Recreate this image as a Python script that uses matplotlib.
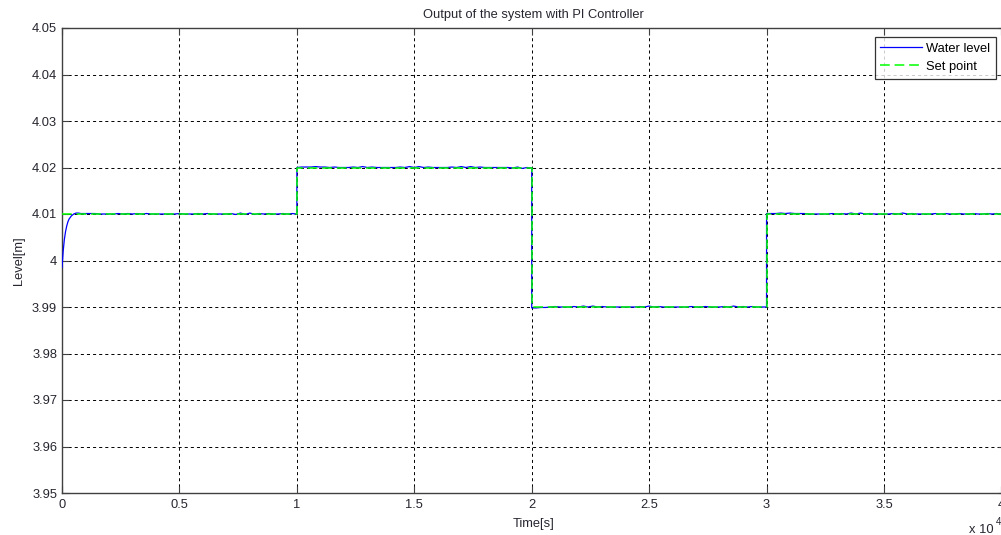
import matplotlib
matplotlib.use("Agg")
import matplotlib.pyplot as plt
import numpy as np

plt.rcParams['font.family'] = ['Liberation Sans', 'DejaVu Sans']
plt.rcParams['lines.scale_dashes'] = False

# set point steps (time in s, level in m)
sp_time = [0, 10000, 20000, 30000, 40000]
sp_level = [4.01, 4.02, 3.99, 4.01, 4.01]

# initial rise of the water level
rise_time = [0, 50, 100, 150, 200, 250, 300, 400, 500, 600, 700, 800]
rise_level = [3.9985, 4.0020, 4.0045, 4.0062, 4.0074, 4.0083, 4.0089,
              4.0096, 4.0100, 4.0102, 4.0102, 4.0101]

# ripple around the set point, units of 0.1 mm, sampled every 200 s
dev_seg1 = [1, 1, 1, 0, 0, 0, 0, 1, 0, 1, 0, 1, 0, 1, 0, 0, 0, 0, 0, 0,
            1, 0, 0, 0, 1, 0, 1, 0, 0, 0, 0, 1, -1, 2, -1, 2, -1, 1, 0, 1,
            0, 0, 1, 0, 1, 0]
dev_seg2 = [0, 1, 1, 1, 2, 1, 1, 0, 1, 0, 0, 0, 1, 0, 2, 0, 1, 0, 0, 0,
            0, 0, 1, 0, 2, 0, 2, 0, 1, 0, 0, 0, 0, 1, 0, 2, 0, 2, 0, 1,
            0, 0, 0, 0, 0, 0, -1, 1, -2, 0, -1]
dev_seg3 = [-2, -2, -1, -1, 0, 1, 0, 0, 0, 1, 0, 2, 0, 2, 0, 1, 0, 0, 0, 0,
            0, 0, 0, 1, 0, 2, 0, 1, 0, 0, 0, 0, 0, 0, 1, 0, 0, 1, 0, 0,
            0, 1, 0, 2, 0, 1, 0, 1, 0, 0, 0]
dev_seg4 = [1, 1, 1, 2, 1, 2, 1, 1, 1, 0, 0, 0, 0, 0, 1, 0, 1, 0, 2, 0,
            2, 0, 1, 0, 0, 0, 0, 1, 0, 2, 0, 1, 0, 0, 0, 0, 1, 0, 1, 0,
            0, 1, 0, 0, 1, 0, 0, 1, 0, 1, 0]

seg_start = [1000, 10000, 20000, 30000]
segs = [dev_seg1, dev_seg2, dev_seg3, dev_seg4]

t_all = list(rise_time)
y_all = list(rise_level)
for k, (t0, dev) in enumerate(zip(seg_start, segs)):
    tt = t0 + 200 * np.arange(len(dev))
    t_all.extend(tt)
    y_all.extend(sp_level[k] + np.array(dev) * 1e-4)

W, H = 1001, 535
x0_px, x4_px, right_px = 62, 1001.4, 1005
fig = plt.figure(figsize=(W / 100, H / 100), dpi=100)
ax = fig.add_axes([x0_px / W, 1 - 493 / H, (right_px - x0_px) / W, (493 - 28) / H])

ax.plot(t_all, y_all, color='#0000ff', lw=0.9, label='Water level', zorder=3)
ax.plot(sp_time, sp_level, color='#00ff00', lw=1.1, drawstyle='steps-post',
        linestyle=(0, (7, 3.5)), label='Set point', zorder=4)

ax.set_xlim(0, 40000 * (right_px - x0_px) / (x4_px - x0_px))
ax.set_ylim(3.95, 4.05)
ax.set_xticks(np.arange(0, 40001, 5000))
ax.set_xticklabels(['0', '0.5', '1', '1.5', '2', '2.5', '3', '3.5', '4'])
yt = np.round(np.arange(3.95, 4.0501, 0.01), 2)
ax.set_yticks(yt)
ax.set_yticklabels(['%g' % v for v in yt])

txt = '#262630'
fs = 9.3
ax.grid(True, color='black', lw=0.7, linestyle=(0, (2.2, 2.2)), zorder=1)
for s in ['left', 'bottom', 'top', 'right']:
    ax.spines[s].set_color('#404040')
    ax.spines[s].set_linewidth(1.0)
ax.tick_params(direction='in', length=5, width=0.8, color='#404040',
               labelsize=fs, labelcolor=txt, top=True, right=True)
ax.tick_params(axis='y', pad=3.5)
ax.tick_params(axis='x', pad=4.5)

ax.set_title('Output of the system with PI Controller', fontsize=fs, color=txt, pad=7)
ax.set_xlabel('Time[s]', fontsize=fs, color=txt, labelpad=4.5)
ax.set_ylabel('Level[m]', fontsize=fs, color=txt, labelpad=5)

fig.text(969 / W, 1 - 530 / H, 'x 10', fontsize=fs, color=txt, va='center')
fig.text(996 / W, 1 - 522 / H, '4', fontsize=7, color=txt, va='center')

leg = ax.legend(loc='upper right', fontsize=fs, frameon=True, fancybox=False,
                handlelength=3.2, borderpad=0.45, labelspacing=0.45,
                handletextpad=0.35, borderaxespad=0,
                bbox_to_anchor=(996 / W, 1 - 37 / H),
                bbox_transform=fig.transFigure)
leg.get_frame().set_edgecolor('black')
leg.get_frame().set_linewidth(0.9)

fig.savefig('out.png', dpi=100)
